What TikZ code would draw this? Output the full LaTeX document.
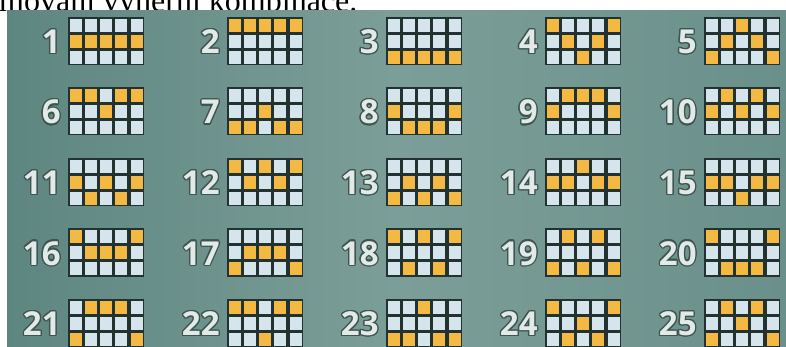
\documentclass[tikz,border=0pt]{standalone}
\usepackage{fontspec}
\setmainfont{Liberation Serif}
\newfontfamily\numfont{Open Sans}
\usepackage{contour}
\contourlength{1.3pt}
\contournumber{12}
\definecolor{panelL}{RGB}{94,134,129}
\definecolor{panelM}{RGB}{124,158,152}
\definecolor{panelR}{RGB}{106,144,139}
\definecolor{frame}{RGB}{34,50,48}
\definecolor{lite}{RGB}{214,229,236}
\definecolor{orng}{RGB}{244,185,66}
\definecolor{numfill}{RGB}{226,234,232}
\definecolor{numedge}{RGB}{62,84,81}
\tikzset{
  gridframe/.style={draw=none, fill=frame, minimum width=76pt, minimum height=48pt, inner sep=0pt},
  numlabel/.style={inner sep=0pt, text=numfill, font=\numfont\bfseries\fontsize{33}{33}\selectfont},
  toptext/.style={inner sep=0pt, font=\fontsize{32}{32}\selectfont, text=black}
}
\begin{document}
\begin{tikzpicture}[x=1pt,y=-1pt]
\useasboundingbox (0,0) rectangle (786,347);
\clip (0,0) rectangle (786,347);
\fill[white] (0,0) rectangle (786,347);
\node[toptext, anchor=base west] (head) at (-1,11.5) {movaní výherní kombinace.};
\shade[left color=panelL, right color=panelR, middle color=panelM] (7,11) rectangle (786,347);
\foreach \n/\p in {1/{1,1,1,1,1}, 2/{0,0,0,0,0}, 3/{2,2,2,2,2}, 4/{0,1,2,1,0}, 5/{2,1,0,1,2},
  6/{0,0,1,0,0}, 7/{2,2,1,2,2}, 8/{1,2,2,2,1}, 9/{1,0,0,0,1}, 10/{1,0,1,0,1},
  11/{1,2,1,2,1}, 12/{0,1,0,1,0}, 13/{2,1,2,1,2}, 14/{1,1,0,1,1}, 15/{1,1,2,1,1},
  16/{0,1,1,1,0}, 17/{2,1,1,1,2}, 18/{0,2,0,2,0}, 19/{2,0,2,0,2}, 20/{0,2,2,2,0},
  21/{2,0,0,0,2}, 22/{0,0,2,0,0}, 23/{2,2,0,2,2}, 24/{0,2,1,2,0}, 25/{2,0,1,0,2}}{
  \pgfmathtruncatemacro{\ci}{mod(\n-1,5)}
  \pgfmathtruncatemacro{\rj}{div(\n-1,5)}
  \pgfmathsetmacro{\gx}{68+159*\ci}
  \pgfmathsetmacro{\gy}{17+70.5*\rj}
  \node[gridframe] (g\n) at (\gx+38,\gy+24) {};
  \foreach \r [count=\k from 0] in \p {
    \foreach \rr in {0,1,2} {
      \ifnum\rr=\r\relax \def\cc{orng}\else\def\cc{lite}\fi
      \fill[\cc] (\gx+15.2*\k+1.8, \gy+16*\rr+1.8) rectangle (\gx+15.2*\k+15.2-1.4, \gy+16*\rr+16-1.4);
    }
  }
  \node[numlabel, anchor=base east] (n\n) at ([xshift=-7pt, yshift=-12.5pt]g\n.west) {\contour{numedge}{\n}};
}
\end{tikzpicture}
\end{document}
